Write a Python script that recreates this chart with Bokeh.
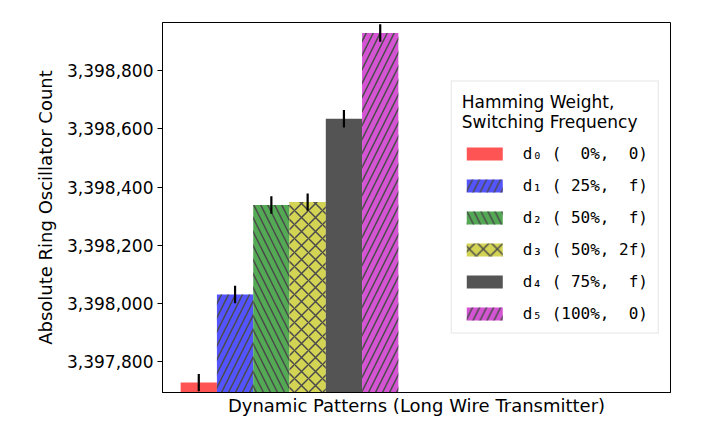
from bokeh.plotting import figure
from bokeh.models import Range1d, FixedTicker, NumeralTickFormatter, Legend, LegendItem
from bokeh.embed import file_html
from bokeh.resources import INLINE

# ---- data ----
series_labels = ["d\u2080 (  0%,  0)", "d\u2081 ( 25%,  f)", "d\u2082 ( 50%,  f)",
                 "d\u2083 ( 50%, 2f)", "d\u2084 ( 75%,  f)", "d\u2085 (100%,  0)"]
values = [3397727, 3398030, 3398338, 3398348, 3398635, 3398930]
errors = [30, 30, 30, 30, 30, 30]
positions = [0, 1, 2, 3, 4, 5]
y_ticks = [3397800, 3398000, 3398200, 3398400, 3398600, 3398800]
x_label = "Dynamic Patterns (Long Wire Transmitter)"
y_label = "Absolute Ring Oscillator Count"
legend_title = "Hamming Weight,\nSwitching Frequency"

# ---- styles ----
colors = ["#ff5454", "#5454ff", "#54aa54", "#d4d454", "#545454", "#d454d4"]
hatches = [None, "/", "\\", "x", None, "/"]
FONT = "DejaVu Sans"
MONO = "DejaVu Sans Mono"

p = figure(width=690, height=425, output_backend="svg", toolbar_location=None,
           x_range=Range1d(-1, 13), y_range=Range1d(3397693, 3398966),
           min_border_left=162, min_border_right=20, min_border_top=22,
           min_border_bottom=33, title=None)

p.xgrid.visible = False
p.ygrid.visible = False
p.outline_line_color = "black"
p.outline_line_width = 1
p.outline_line_alpha = 1
p.background_fill_color = "white"
p.border_fill_color = "white"

items = []
for i in range(len(values)):
    kw = dict(fill_color=colors[i], line_color=None)
    if hatches[i] is not None:
        kw.update(hatch_pattern=hatches[i], hatch_color="#4a4a4a",
                  hatch_weight=1.5, hatch_scale=14)
    r = p.vbar(x=[positions[i]], top=[values[i]], bottom=0, width=1, **kw)
    items.append(LegendItem(label=series_labels[i], renderers=[r]))

p.segment(x0=positions, x1=positions,
          y0=[v - e for v, e in zip(values, errors)],
          y1=[v + e for v, e in zip(values, errors)],
          line_color="black", line_width=2.2)

# y axis
ya = p.yaxis[0]
ya.ticker = FixedTicker(ticks=y_ticks)
ya.formatter = NumeralTickFormatter(format="0,0")
ya.major_label_text_font = FONT
ya.major_label_text_font_size = "17px"
ya.major_label_text_color = "black"
ya.major_tick_out = 5
ya.major_tick_in = 0
ya.minor_tick_line_color = None
ya.major_tick_line_color = "black"
ya.axis_line_color = "black"
ya.major_label_standoff = 4
ya.axis_label = y_label
ya.axis_label_text_font = FONT
ya.axis_label_text_font_size = "18px"
ya.axis_label_text_font_style = "normal"
ya.axis_label_text_color = "black"
ya.axis_label_standoff = 8

# x axis
xa = p.xaxis[0]
xa.ticker = FixedTicker(ticks=[])
xa.major_tick_line_color = None
xa.minor_tick_line_color = None
xa.major_tick_out = 0
xa.major_label_text_font_size = "0px"
xa.axis_line_color = "black"
xa.axis_label = x_label
xa.axis_label_text_font = FONT
xa.axis_label_text_font_size = "18px"
xa.axis_label_text_font_style = "normal"
xa.axis_label_text_color = "black"
xa.axis_label_standoff = 2

legend = Legend(items=items, location="right", title=legend_title)
legend.margin = 11
legend.padding = 10
legend.glyph_width = 45
legend.glyph_height = 16
legend.label_height = 16
legend.label_standoff = 16
legend.spacing = 13
legend.label_text_font = MONO
legend.label_text_font_size = "16px"
legend.label_text_color = "black"
legend.title_text_font = FONT
legend.title_text_font_size = "17px"
legend.title_text_font_style = "normal"
legend.title_text_color = "black"
legend.title_standoff = 12
legend.border_line_color = "#cccccc"
legend.border_line_width = 1
legend.background_fill_color = "white"
legend.background_fill_alpha = 1
p.add_layout(legend)

open("out.html", "w").write(file_html(p, INLINE))
